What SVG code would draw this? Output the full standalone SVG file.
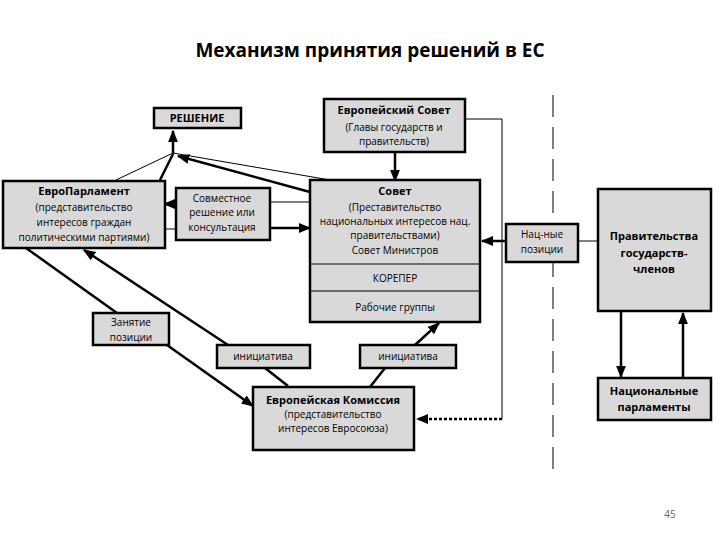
<svg xmlns="http://www.w3.org/2000/svg" width="720" height="540" viewBox="0 0 720 540">
<defs>
<marker id="ah" viewBox="0 0 10 10" refX="9" refY="5" markerWidth="5" markerHeight="5" orient="auto"><path d="M0,1 L10,5 L0,9 z" fill="#000"/></marker>
</defs>
<style>
.b{fill:#d9d9d9;stroke:#000;stroke-width:2.5}
text{font-family:"Open Sans","DejaVu Sans",sans-serif;font-size:10px;text-anchor:middle;fill:#000}
.h{font-weight:bold;font-size:11px}
.t{font-size:19px;font-weight:bold}
.th{stroke:#000;stroke-width:1;fill:none}
.tk{stroke:#000;stroke-width:2.5;fill:none}
</style>
<rect width="720" height="540" fill="#fff"/>
<text class="t" x="370" y="57">Механизм принятия решений в ЕС</text>
<g id="connectors">
<line class="th" x1="553" y1="95" x2="553" y2="470" stroke-dasharray="22,10"/>
<line class="tk" x1="173" y1="154" x2="173" y2="131" marker-end="url(#ah)"/>
<line class="th" x1="116" y1="180" x2="173" y2="153"/>
<line class="tk" x1="160" y1="180" x2="173" y2="154"/>
<line class="tk" x1="310" y1="192" x2="178" y2="156" marker-end="url(#ah)"/>
<line class="th" x1="330" y1="180" x2="173" y2="153"/>
<line class="tk" x1="186" y1="204" x2="164" y2="204" marker-end="url(#ah)"/>
<line class="th" x1="263" y1="202" x2="310" y2="202"/>
<line class="th" x1="160" y1="229" x2="178" y2="229"/>
<line class="tk" x1="263" y1="228" x2="310" y2="228" marker-end="url(#ah)"/>
<line class="tk" x1="395" y1="140" x2="395" y2="181" marker-end="url(#ah)"/>
<polyline class="th" points="465,119 502,119 502,419"/>
<line class="tk" x1="502" y1="419" x2="417" y2="419" stroke-dasharray="3,2" marker-end="url(#ah)"/>
<line class="tk" x1="506" y1="241" x2="482" y2="241" marker-end="url(#ah)"/>
<line class="th" x1="578" y1="241" x2="598" y2="241"/>
<line class="tk" x1="621" y1="311" x2="621" y2="377" marker-end="url(#ah)"/>
<line class="tk" x1="683" y1="378" x2="683" y2="313" marker-end="url(#ah)"/>
<line class="tk" x1="26" y1="248" x2="117" y2="313"/>
<line class="tk" x1="167" y1="345" x2="253" y2="406" marker-end="url(#ah)"/>
<line class="tk" x1="228" y1="345" x2="84" y2="250" marker-end="url(#ah)"/>
<line class="tk" x1="265" y1="368" x2="288" y2="386"/>
<line class="tk" x1="370" y1="387" x2="385" y2="368"/>
<line class="tk" x1="415" y1="345" x2="439" y2="323" marker-end="url(#ah)"/>
</g>
<g id="reshenie"><rect class="b" x="154" y="108" width="87" height="20"/><text class="h" x="197" y="122">РЕШЕНИЕ</text></g>
<g id="eurocouncil"><rect class="b" x="324" y="99" width="141" height="53"/><text class="h" x="394" y="114">Европейский Совет</text><text x="394" y="131">(Главы государств и</text><text x="394" y="145">правительств)</text></g>
<g id="europarl"><rect class="b" x="3" y="181" width="162" height="67"/><text class="h" x="84" y="195">ЕвроПарламент</text><text x="84" y="211">(представительство</text><text x="84" y="226">интересов граждан</text><text x="84" y="241">политическими партиями)</text></g>
<g id="joint"><rect class="b" x="176" y="188" width="94" height="52"/><text x="222" y="202">Совместное</text><text x="222" y="216">решение или</text><text x="222" y="231">консультация</text></g>
<g id="council"><rect class="b" x="310" y="180" width="170" height="142"/><line class="th" x1="310" y1="264" x2="480" y2="264"/><line class="th" x1="310" y1="291" x2="480" y2="291"/><text class="h" x="395" y="195">Совет</text><text x="395" y="211">(Преставительство</text><text x="395" y="225">национальных интересов нац.</text><text x="395" y="239">правительствами)</text><text x="395" y="254">Совет Министров</text><text x="395" y="282">КОРЕПЕР</text><text x="395" y="311">Рабочие группы</text></g>
<g id="natpos"><rect class="b" x="506" y="224" width="72" height="38"/><text x="542" y="238">Нац-ные</text><text x="542" y="253">позиции</text></g>
<g id="govs"><rect class="b" x="598" y="189" width="113" height="122"/><text class="h" x="654" y="240">Правительства</text><text class="h" x="654" y="257">государств-</text><text class="h" x="654" y="273">членов</text></g>
<g id="natparl"><rect class="b" x="598" y="378" width="113" height="42"/><text class="h" x="654" y="395">Национальные</text><text class="h" x="654" y="411">парламенты</text></g>
<g id="position"><rect class="b" x="93" y="313" width="76" height="32"/><text x="131" y="326">Занятие</text><text x="131" y="341">позиции</text></g>
<g id="init1"><rect class="b" x="217" y="345" width="93" height="23"/><text x="263" y="360">инициатива</text></g>
<g id="init2"><rect class="b" x="360" y="345" width="96" height="23"/><text x="408" y="360">инициатива</text></g>
<g id="commission"><rect class="b" x="253" y="387" width="161" height="63"/><text class="h" x="333" y="404">Европейская Комиссия</text><text x="333" y="418">(представительство</text><text x="333" y="432">интересов Евросоюза)</text></g>
<text x="670" y="518" style="fill:#666">45</text>
</svg>
